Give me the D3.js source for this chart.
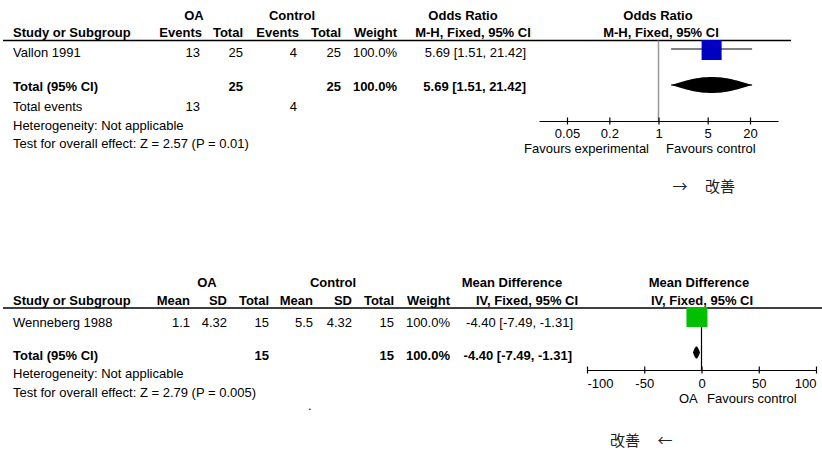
<!DOCTYPE html>
<html>
<head>
<meta charset="utf-8">
<script src="https://cdn.jsdelivr.net/npm/d3@7/dist/d3.min.js"></script>
<style>
  html, body { margin: 0; padding: 0; background: #fff; }
  svg { display: block; }
  text { font-family: "Liberation Sans", Arial, sans-serif; font-size: 13px; fill: #000; }
  .b { font-weight: bold; }
  .cjk { font-family: "Noto Sans CJK JP", "Noto Sans CJK SC", sans-serif; font-size: 15px; fill: #222; }
</style>
</head>
<body>
<svg id="chart" width="822" height="465"></svg>
<script>
// ---------- Data: Odds Ratio panel ----------
const orStudies      = ["Vallon 1991"];
const orOAEvents     = [13];
const orOATotal      = [25];
const orCtrlEvents   = [4];
const orCtrlTotal    = [25];
const orWeight       = [100.0];
const orEst          = [5.69];
const orLo           = [1.51];
const orHi           = [21.42];
const orPooled       = [5.69, 1.51, 21.42];   // est, lo, hi
const orTotalEvents  = [13, 4];
const orTotals       = [25, 25];
const orTicks        = [0.05, 0.2, 1, 5, 20];
const orHeterogeneity = "Heterogeneity: Not applicable";
const orOverall      = "Test for overall effect: Z = 2.57 (P = 0.01)";

// ---------- Data: Mean Difference panel ----------
const mdStudies      = ["Wenneberg 1988"];
const mdOAMean       = [1.1];
const mdOASD         = [4.32];
const mdOATotal      = [15];
const mdCtrlMean     = [5.5];
const mdCtrlSD       = [4.32];
const mdCtrlTotal    = [15];
const mdWeight       = [100.0];
const mdEst          = [-4.40];
const mdLo           = [-7.49];
const mdHi           = [-1.31];
const mdPooled       = [-4.40, -7.49, -1.31];
const mdTotals       = [15, 15];
const mdTicks        = [-100, -50, 0, 50, 100];
const mdHeterogeneity = "Heterogeneity: Not applicable";
const mdOverall      = "Test for overall effect: Z = 2.79 (P = 0.005)";

// ---------- Drawing ----------
const svg = d3.select("#chart");
const loc = d3.formatLocale({decimal: ".", thousands: ",", grouping: [3], currency: ["", ""], minus: "-"});
const f2 = loc.format(".2f");
const fw = loc.format(".1f");
const ciText = (e, l, h) => `${f2(e)} [${f2(l)}, ${f2(h)}]`;

function txt(x, y, s, anchor = "start", cls = "") {
  return svg.append("text").attr("x", x).attr("y", y).attr("dy", "0.35em")
    .attr("text-anchor", anchor).attr("class", cls).text(s);
}

function lens(xs, cx, lo, hi, cy, h) {
  // convex diamond (lens) outline built from the CI through the scale
  const n = 16, pts = [];
  const xl = xs(lo), xc = xs(cx), xh = xs(hi);
  for (let i = 0; i <= n; i++) { const t = i / n; pts.push([xl + (xc - xl) * t, cy - h * Math.sin(Math.PI / 2 * t)]); }
  for (let i = n; i >= 0; i--) { const t = i / n; pts.push([xh - (xh - xc) * t, cy - h * Math.sin(Math.PI / 2 * t)]); }
  for (let i = 0; i <= n; i++) { const t = i / n; pts.push([xh - (xh - xc) * t, cy + h * Math.sin(Math.PI / 2 * t)]); }
  for (let i = n; i >= 0; i--) { const t = i / n; pts.push([xl + (xc - xl) * t, cy + h * Math.sin(Math.PI / 2 * t)]); }
  return d3.line()(pts) + "Z";
}

// ===== Top panel: Odds Ratio =====
{
  const hy1 = 15, hy2 = 32, lineY = 40.5, axisY = 121;
  const rowY = [52.5], totY = 86.5, evY = 106.5, hetY = 125, testY = 143;
  const x = d3.scaleLog().domain([0.02, 50]).range([539, 778]);

  txt(194, hy1, "OA", "middle", "b");
  txt(292, hy1, "Control", "middle", "b");
  txt(463, hy1, "Odds Ratio", "middle", "b");
  txt(658, hy1, "Odds Ratio", "middle", "b");

  txt(13, hy2, "Study or Subgroup", "start", "b");
  txt(202, hy2, "Events", "end", "b");
  txt(243, hy2, "Total", "end", "b");
  txt(299, hy2, "Events", "end", "b");
  txt(341, hy2, "Total", "end", "b");
  txt(397, hy2, "Weight", "end", "b");
  txt(473, hy2, "M-H, Fixed, 95% CI", "middle", "b");
  txt(661, hy2, "M-H, Fixed, 95% CI", "middle", "b");

  svg.append("line").attr("x1", 3).attr("x2", 791).attr("y1", lineY).attr("y2", lineY)
    .attr("stroke", "#000").attr("stroke-width", 1.5);

  orStudies.forEach((s, i) => {
    const y = rowY[i];
    txt(13, y, s);
    txt(200, y, orOAEvents[i], "end");
    txt(243, y, orOATotal[i], "end");
    txt(297, y, orCtrlEvents[i], "end");
    txt(341, y, orCtrlTotal[i], "end");
    txt(397, y, fw(orWeight[i]) + "%", "end");
    txt(526, y, ciText(orEst[i], orLo[i], orHi[i]), "end");
  });

  txt(13, totY, "Total (95% CI)", "start", "b");
  txt(243, totY, orTotals[0], "end", "b");
  txt(341, totY, orTotals[1], "end", "b");
  txt(397, totY, fw(d3.sum(orWeight)) + "%", "end", "b");
  txt(526, totY, ciText(...orPooled), "end", "b");

  txt(13, evY, "Total events");
  txt(200, evY, orTotalEvents[0], "end");
  txt(297, evY, orTotalEvents[1], "end");
  txt(13, hetY, orHeterogeneity);
  txt(13, testY, orOverall);

  // null line
  svg.append("line").attr("x1", x(1)).attr("x2", x(1)).attr("y1", lineY).attr("y2", axisY)
    .attr("stroke", "#999").attr("stroke-width", 1.5);

  // study CI + square
  orStudies.forEach((s, i) => {
    const cy = 50, sz = 20;
    svg.append("line").attr("x1", x(orLo[i])).attr("x2", x(orHi[i])).attr("y1", cy - 1).attr("y2", cy - 1)
      .attr("stroke", "#000").attr("stroke-width", 1);
    svg.append("rect").attr("x", x(orEst[i]) - sz / 2).attr("y", cy - sz / 2)
      .attr("width", sz).attr("height", sz).attr("fill", "#0000c0");
  });
  // pooled
  svg.append("line").attr("x1", x(orPooled[1])).attr("x2", x(orPooled[2])).attr("y1", 85).attr("y2", 85)
    .attr("stroke", "#000").attr("stroke-width", 1);
  svg.append("path").attr("d", lens(x, orPooled[0], orPooled[1], orPooled[2], 85, 8)).attr("fill", "#000");

  // axis
  const ax = svg.append("g").attr("transform", `translate(0,${axisY})`)
    .call(d3.axisBottom(x).tickValues(orTicks).tickFormat(d => String(d)).tickSizeOuter(0));
  ax.select(".domain").attr("stroke", "#000").attr("stroke-width", 1.2);
  ax.selectAll(".tick line").attr("y1", -3.5).attr("y2", 3.5).attr("stroke", "#000").attr("stroke-width", 1.2);
  ax.selectAll(".tick text").attr("y", 12).attr("dy", "0.35em").attr("font-size", null)
    .attr("font-family", null).attr("fill", "#000");

  txt(649, 148.5, "Favours experimental", "end");
  txt(666, 148.5, "Favours control", "start");

  svg.append("text").attr("class", "cjk").attr("x", 680).attr("y", 187).attr("dy", "0.35em")
    .attr("text-anchor", "middle").text("→");
  svg.append("text").attr("class", "cjk").attr("x", 705).attr("y", 187).attr("dy", "0.35em").text("改善");
}

// ===== Bottom panel: Mean Difference =====
{
  const hy1 = 282, hy2 = 300, lineY = 308, axisY = 370;
  const rowY = [322], totY = 355, hetY = 373, testY = 392;
  const x = d3.scaleLinear().domain([-100, 100]).range([587, 816]);

  txt(207, hy1, "OA", "middle", "b");
  txt(333, hy1, "Control", "middle", "b");
  txt(512, hy1, "Mean Difference", "middle", "b");
  txt(699, hy1, "Mean Difference", "middle", "b");

  txt(13, hy2, "Study or Subgroup", "start", "b");
  txt(190, hy2, "Mean", "end", "b");
  txt(227, hy2, "SD", "end", "b");
  txt(269, hy2, "Total", "end", "b");
  txt(313, hy2, "Mean", "end", "b");
  txt(352, hy2, "SD", "end", "b");
  txt(394, hy2, "Total", "end", "b");
  txt(450, hy2, "Weight", "end", "b");
  txt(527, hy2, "IV, Fixed, 95% CI", "middle", "b");
  txt(702, hy2, "IV, Fixed, 95% CI", "middle", "b");

  svg.append("line").attr("x1", 3).attr("x2", 822).attr("y1", lineY).attr("y2", lineY)
    .attr("stroke", "#000").attr("stroke-width", 1.5);

  mdStudies.forEach((s, i) => {
    const y = rowY[i];
    txt(13, y, s);
    txt(190, y, mdOAMean[i], "end");
    txt(227, y, f2(mdOASD[i]), "end");
    txt(269, y, mdOATotal[i], "end");
    txt(313, y, mdCtrlMean[i], "end");
    txt(352, y, f2(mdCtrlSD[i]), "end");
    txt(394, y, mdCtrlTotal[i], "end");
    txt(450, y, fw(mdWeight[i]) + "%", "end");
    txt(573, y, ciText(mdEst[i], mdLo[i], mdHi[i]), "end");
  });

  txt(13, totY, "Total (95% CI)", "start", "b");
  txt(269, totY, mdTotals[0], "end", "b");
  txt(394, totY, mdTotals[1], "end", "b");
  txt(450, totY, fw(d3.sum(mdWeight)) + "%", "end", "b");
  txt(572, totY, ciText(...mdPooled), "end", "b");
  txt(13, hetY, mdHeterogeneity);
  txt(13, testY, mdOverall);
  svg.append("text").attr("x", 308).attr("y", 410).text(".");

  svg.append("line").attr("x1", x(0)).attr("x2", x(0)).attr("y1", lineY).attr("y2", axisY)
    .attr("stroke", "#000").attr("stroke-width", 1.2);

  mdStudies.forEach((s, i) => {
    const cy = 317, sz = 20;
    svg.append("line").attr("x1", x(mdLo[i])).attr("x2", x(mdHi[i])).attr("y1", cy).attr("y2", cy)
      .attr("stroke", "#000").attr("stroke-width", 1);
    svg.append("rect").attr("x", x(mdEst[i]) - sz / 2).attr("y", cy - sz / 2)
      .attr("width", sz + 1).attr("height", sz).attr("fill", "#00c000");
  });
  svg.append("path").attr("d", lens(x, mdPooled[0], mdPooled[1], mdPooled[2], 352.5, 6)).attr("fill", "#000");

  const ax = svg.append("g").attr("transform", `translate(0,${axisY})`)
    .call(d3.axisBottom(x).tickValues(mdTicks).tickFormat(d => String(d)).tickSizeOuter(0));
  ax.select(".domain").attr("stroke", "#000").attr("stroke-width", 1.2);
  ax.selectAll(".tick line").attr("y1", -3.5).attr("y2", 3.5).attr("stroke", "#000").attr("stroke-width", 1.2);
  ax.selectAll(".tick text").attr("y", 13.5).attr("dy", "0.35em").attr("font-size", null)
    .attr("font-family", null).attr("fill", "#000")
    .attr("text-anchor", (d, i, n) => i === 0 ? "start" : (i === n.length - 1 ? "end" : "middle"));

  txt(679, 398.5, "OA", "start");
  txt(707, 398.5, "Favours control", "start");

  svg.append("text").attr("class", "cjk").attr("x", 610).attr("y", 441).attr("dy", "0.35em").text("改善");
  svg.append("text").attr("class", "cjk").attr("x", 665).attr("y", 441).attr("dy", "0.35em")
    .attr("text-anchor", "middle").text("←");
}
</script>
</body>
</html>
